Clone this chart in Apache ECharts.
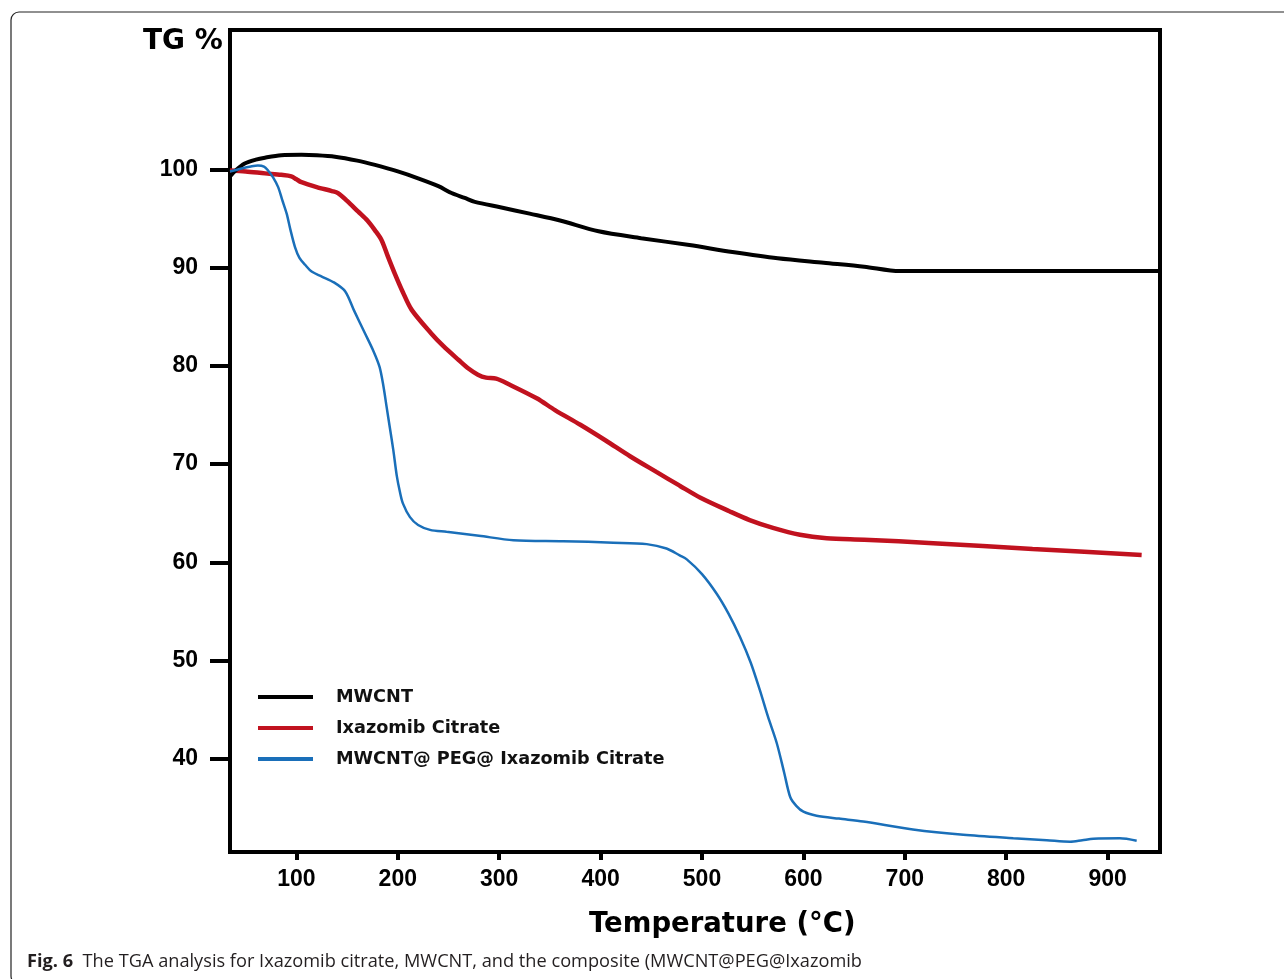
<!DOCTYPE html>
<html>
<head>
<meta charset="utf-8">
<script src="https://cdn.jsdelivr.net/npm/echarts@6/dist/echarts.min.js"></script>
<style>
html,body{margin:0;padding:0;background:#fff;}
#c{width:1284px;height:979px;}
</style>
</head>
<body>
<div id="c"></div>
<script>
// ---- data ----
const seriesNames = ['MWCNT', 'Ixazomib Citrate', 'MWCNT@ PEG@ Ixazomib Citrate'];
const xTicks = [100, 200, 300, 400, 500, 600, 700, 800, 900];
const yTicks = [40, 50, 60, 70, 80, 90, 100];

const mwcnt = [
  [34.5, 99.3], [40, 99.9], [49, 100.6], [60, 101.0], [69, 101.2], [85, 101.45], [105, 101.5],
  [120, 101.45], [138, 101.3], [160, 100.9], [177.5, 100.46], [200, 99.8], [220, 99.1],
  [240, 98.3], [253, 97.6], [266, 97.1], [276, 96.7], [301, 96.15], [330, 95.5], [360, 94.8],
  [398, 93.7], [440, 93.0], [487.6, 92.3], [530, 91.6], [574.7, 90.96], [620, 90.5],
  [660, 90.1], [695, 89.65], [951.7, 89.65]
];

const ixazomib = [
  [34.5, 99.9], [50, 99.8], [69, 99.6], [85, 99.45], [95, 99.3], [100, 99.0], [105, 98.7],
  [120, 98.2], [135, 97.8], [141, 97.6], [150, 96.8], [161, 95.7], [170, 94.8], [177.5, 93.8],
  [184, 92.8], [190, 91.2], [197, 89.4], [205, 87.5], [213.7, 85.7], [233, 83.3], [245, 82.0],
  [260, 80.6], [270, 79.7], [279, 79.1], [287, 78.8], [297, 78.7], [310, 78.1], [337, 76.7],
  [355, 75.5], [380, 74.0], [405, 72.4], [429, 70.8], [455, 69.2], [478, 67.8], [498, 66.6],
  [527, 65.2], [547, 64.3], [570, 63.5], [596.6, 62.8], [623, 62.45], [660, 62.3],
  [728, 61.95], [826, 61.35], [933.6, 60.75]
];

const composite = [
  [34.5, 99.8], [46, 100.1], [55, 100.3], [62, 100.4], [68, 100.3], [72, 99.9], [77, 99.2],
  [82, 98.2], [86, 96.9], [90.4, 95.5], [94, 93.9], [98.6, 92.1], [103, 91.0], [108.5, 90.3],
  [115, 89.6], [125, 89.1], [137, 88.5], [148, 87.6], [157, 85.6], [167.7, 83.3], [176, 81.5],
  [182, 79.9], [185.7, 78.0], [189, 75.8], [192, 73.8], [195.6, 71.4], [199, 68.8], [202, 67.2],
  [205, 66.0], [212, 64.6], [220, 63.8], [231.8, 63.3], [248, 63.1], [280, 62.7], [314, 62.25],
  [363, 62.15], [412.5, 62.0], [445.5, 61.85], [465, 61.4], [478, 60.7], [485, 60.3],
  [500, 58.8], [514.5, 56.8], [526, 54.8], [537.5, 52.4], [548, 49.8], [557, 47.0], [565, 44.3],
  [573.7, 41.6], [581, 38.6], [587, 36.1], [593, 35.2], [600, 34.6], [613, 34.2], [635, 33.9],
  [659, 33.6], [708, 32.8], [757.7, 32.25], [807, 31.9], [840, 31.7], [863, 31.55], [875, 31.7],
  [886, 31.85], [912, 31.9], [928.7, 31.65]
];

const colors = ['#000000', '#c1121f', '#1a6fb9'];
const font = 'Liberation Sans, Arial, sans-serif';
const wideFont = 'DejaVu Sans, Verdana, sans-serif';

const chart = echarts.init(document.getElementById('c'), null, {renderer: 'canvas'});
chart.setOption({
  animation: false,
  backgroundColor: '#ffffff',
  color: colors,
  grid: {
    left: 230, right: 124, top: 30, bottom: 127,
    show: true, borderColor: '#000', borderWidth: 4, backgroundColor: 'transparent'
  },
  legend: {
    orient: 'vertical',
    left: 253, top: 683,
    itemWidth: 55, itemHeight: 4, itemGap: 13,
    icon: 'rect',
    textStyle: {fontFamily: wideFont, fontWeight: 'bold', fontSize: 17.7, color: '#111', padding: [0, 0, 0, 18]},
    data: seriesNames
  },
  xAxis: {
    type: 'value', min: 34.5, max: 951.7,
    axisLine: {show: true, lineStyle: {color: '#000', width: 4}},
    axisTick: {show: true, length: 8, lineStyle: {color: '#000', width: 4}, customValues: xTicks},
    axisLabel: {customValues: xTicks, margin: 16, color: '#000', fontFamily: font, fontWeight: 'bold', fontSize: 23},
    splitLine: {show: false}
  },
  yAxis: {
    type: 'value', min: 30.5, max: 114.2,
    axisLine: {show: true, lineStyle: {color: '#000', width: 4}},
    axisTick: {show: true, length: 20, lineStyle: {color: '#000', width: 4}, customValues: yTicks},
    axisLabel: {customValues: yTicks, margin: 32, color: '#000', fontFamily: font, fontWeight: 'bold', fontSize: 23},
    splitLine: {show: false}
  },
  graphic: [
    {type: 'rect', silent: true, z: -1,
     shape: {x: 11, y: 12, width: 1400, height: 972, r: 8},
     style: {fill: 'none', stroke: '#222', lineWidth: 1.2}},
    {type: 'text', left: 143, top: 28,
     style: {text: 'TG %', fontFamily: wideFont, fontWeight: 'bold', fontSize: 28, fill: '#000'}},
    {type: 'text', left: 589, top: 911,
     style: {text: 'Temperature (°C)', fontFamily: wideFont, fontWeight: 'bold', fontSize: 27.5, fill: '#000'}},
    {type: 'text', left: 27, top: 953,
     style: {
       text: '{b|Fig. 6}  The TGA analysis for Ixazomib citrate, MWCNT, and the composite (MWCNT@PEG@Ixazomib',
       fontFamily: 'Open Sans, Noto Sans, sans-serif', fontSize: 18.2, fill: '#231f20',
       rich: {b: {fontFamily: 'Open Sans, Noto Sans, sans-serif', fontWeight: 'bold', fontSize: 18.2, fill: '#231f20'}}
     }}
  ],
  series: [
    {name: seriesNames[0], type: 'line', data: mwcnt, showSymbol: false, smooth: 0.3,
     lineStyle: {width: 4, color: colors[0]}, z: 3},
    {name: seriesNames[1], type: 'line', data: ixazomib, showSymbol: false, smooth: 0.3,
     lineStyle: {width: 4.5, color: colors[1]}, z: 2},
    {name: seriesNames[2], type: 'line', data: composite, showSymbol: false, smooth: 0.3,
     lineStyle: {width: 2.5, color: colors[2]}, z: 4}
  ]
});
</script>
</body>
</html>
